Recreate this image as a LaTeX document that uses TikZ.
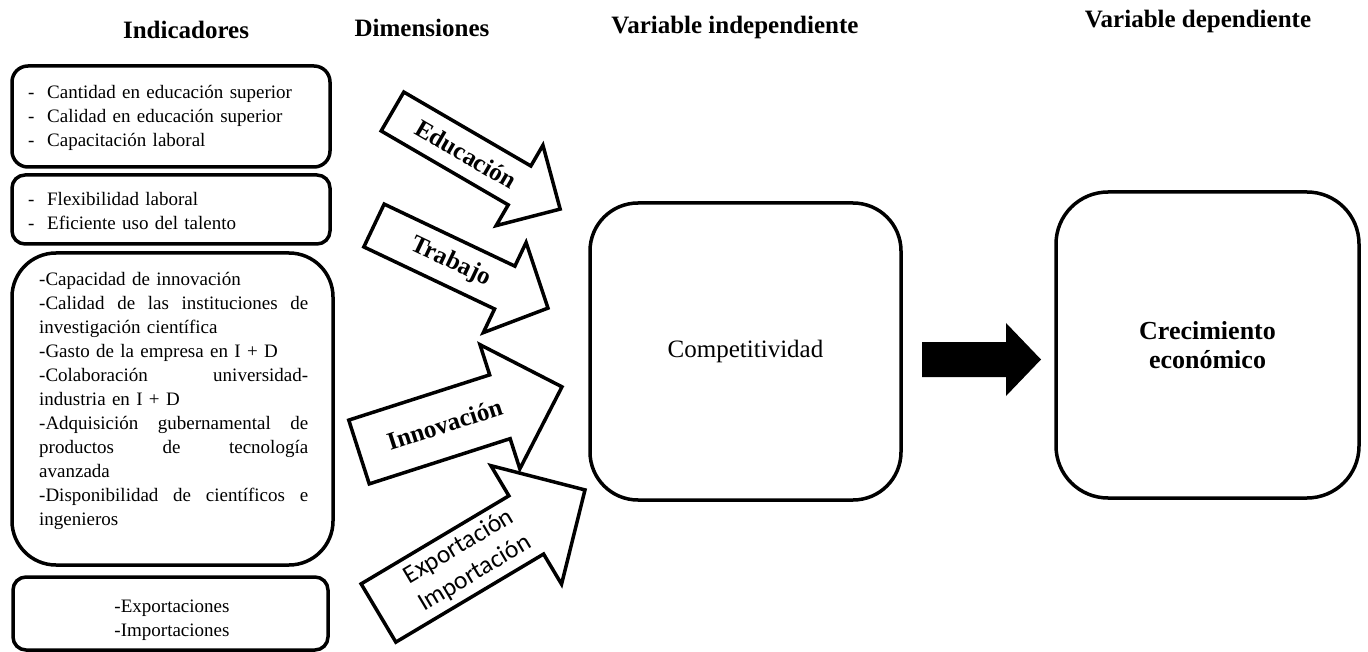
\documentclass[tikz,border=0pt]{standalone}
\usepackage{fontspec}
\setmainfont{Liberation Serif}
\newfontfamily\carlito{Carlito}
\usetikzlibrary{calc}
% justified line (spaces stretched to the full column width)
\newlength{\colw}
\setlength{\colw}{269pt}
\newcommand{\jline}[1]{\leavevmode\hbox to \colw{\spaceskip=0.25em plus 1fil\relax #1}}
% bullet line with a hanging dash
\newcommand{\itm}[1]{\makebox[19pt][l]{-}#1}

\begin{document}
\begin{tikzpicture}[x=1pt,y=-1pt,
  heading/.style={font=\fontsize{25}{30}\selectfont\bfseries, inner sep=0pt},
  panel/.style={draw, line width=3.5pt, rounded corners=#1, inner sep=0pt, outer sep=0pt},
  bodytext/.style={font=\fontsize{19}{24}\selectfont, inner sep=0pt, align=left},
  dimarrow/.style={draw, line width=3.5pt, fill=white, line join=miter},
  dimlabel/.style={font=\fontsize{25}{30}\selectfont\bfseries, inner sep=0pt},
]
\useasboundingbox (0,0) rectangle (1368,652);

% column headings
\node[heading] (tInd) at (186,30) {Indicadores};
\node[heading] (tDim) at (422,28) {Dimensiones};
\node[heading] (tVi)  at (735,27) {Variable independiente};
\node[heading] (tVd)  at (1198,21) {Variable dependiente};

% indicator panels
\node[panel=16pt, minimum width=318pt, minimum height=101pt] (ind1) at (171,116.5) {};
\node[panel=13pt, minimum width=318pt, minimum height=69pt]  (ind2) at (171,209.5) {};
\node[panel=44pt, minimum width=321pt, minimum height=312pt] (ind3) at (172.5,409) {};
\node[panel=13pt, minimum width=315pt, minimum height=73pt]  (ind4) at (170.5,613.5) {};

\node[bodytext, text width=295pt, anchor=base west] (ind1txt) at (28,99)
  {\itm{Cantidad en educación superior}\\ \itm{Calidad en educación superior}\\ \itm{Capacitación laboral}};
\node[bodytext, text width=295pt, anchor=base west] (ind2txt) at (28,206)
  {\itm{Flexibilidad laboral}\\ \itm{Eficiente uso del talento}};
\node[bodytext, text width=\colw, anchor=base west] (ind3txt) at (39,286)
  {-Capacidad de innovación\\
   \jline{-Calidad de las instituciones de}\\
   investigación científica\\
   -Gasto de la empresa en I + D\\
   \jline{-Colaboración universidad-}\\
   industria en I + D\\
   \jline{-Adquisición gubernamental de}\\
   \jline{productos de tecnología}\\
   avanzada\\
   \jline{-Disponibilidad de científicos e}\\
   ingenieros};
\node[bodytext, text width=250pt, align=center, anchor=base] (ind4txt) at (172,612)
  {-Exportaciones\\-Importaciones};

% dimension arrows
\begin{scope}[shift={(392.5,111.5)}, rotate=-30.2]
  \draw[dimarrow] (0,-22.5) -- (147,-22.5) -- (147,-46.5) -- (194,0) -- (147,46.5) -- (147,22.5) -- (0,22.5) -- cycle;
  \node[dimlabel, rotate=-30.2] (dEdu) at (85,0) {Educación};
\end{scope}
\begin{scope}[shift={(374,225.5)}, rotate=-25.4]
  \draw[dimarrow] (0,-23.7) -- (144.7,-23.7) -- (144.7,-49.9) -- (192.6,0) -- (144.7,49.9) -- (144.7,23.7) -- (0,23.7) -- cycle;
  \node[dimlabel, rotate=-25.4] (dTra) at (85,0) {Trabajo};
\end{scope}
\begin{scope}[shift={(359,452)}, rotate=17.8]
  \draw[dimarrow] (0,-33.5) -- (148,-33.5) -- (148,-65.2) -- (213.2,0) -- (148,65.2) -- (148,33.5) -- (0,33.5) -- cycle;
  \node[dimlabel, rotate=17.8] (dInn) at (90,0) {Innovación};
\end{scope}
\begin{scope}[shift={(378.5,613)}, rotate=30.8]
  \draw[dimarrow] (0,-33.9) -- (172,-33.9) -- (172,-69) -- (240.4,0) -- (172,69) -- (172,33.9) -- (0,33.9) -- cycle;
  \node[font=\carlito\fontsize{25.5}{31}\selectfont, align=center, inner sep=0pt, rotate=30.8] (dExp) at (103,0)
    {Exportación\\Importación};
\end{scope}

% variables
\node[panel=48pt, minimum width=311pt, minimum height=297pt, font=\fontsize{25}{30}\selectfont] (comp) at (745.5,351.5) {Competitividad};
\node[panel=52pt, minimum width=303pt, minimum height=306pt, font=\fontsize{26}{29}\selectfont\bfseries, align=center] (crec) at (1207.5,345) {Crecimiento\\económico};

% block arrow from independent to dependent variable
\coordinate (flowS) at ($(comp.east)+(21,8)$);
\coordinate (flowE) at ($(crec.west)+(-15,14.5)$);
\fill ($(flowS)+(0,-17.5)$) -- ($(flowE)+(-35,-17.5)$) -- ($(flowE)+(-35,-36.5)$) -- (flowE)
  -- ($(flowE)+(-35,36.5)$) -- ($(flowE)+(-35,17.5)$) -- ($(flowS)+(0,17.5)$) -- cycle;
\end{tikzpicture}
\end{document}
